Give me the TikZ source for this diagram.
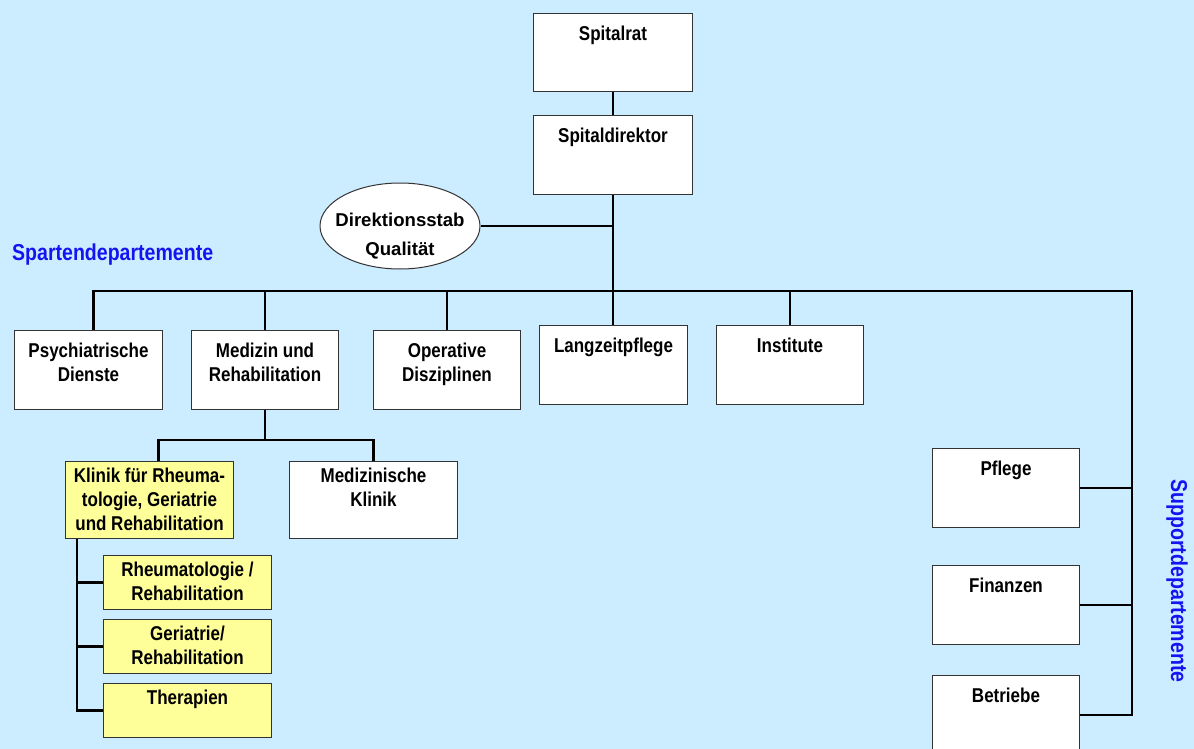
\documentclass[tikz,border=0pt]{standalone}
\usepackage{fontspec}
\setmainfont{Liberation Sans}
\newfontfamily\condfont{Liberation Sans}[FakeStretch=0.85]
\definecolor{bgblue}{RGB}{204,236,255}
\definecolor{klinikgelb}{RGB}{255,255,153}
\definecolor{labelblue}{RGB}{20,20,240}
\tikzset{
  orgbox/.style n args={3}{draw=black!80, line width=1pt, fill=white, anchor=north west, inner sep=0pt,
    minimum width=#1, minimum height=#2, font=\condfont\bfseries\fontsize{20}{24}\selectfont,
    execute at begin node={\begin{minipage}[c][#2][t]{#1}\centering\vspace*{#3}\strut},
    execute at end node={\end{minipage}}},
  gelb/.style={fill=klinikgelb},
  link/.style={line width=2.5pt},
  stab/.style={ellipse, draw=black!80, line width=1pt, fill=white, inner sep=0pt,
    minimum width=160pt, minimum height=86pt, font=\bfseries\fontsize{18.6}{29}\selectfont},
  sparte/.style={text=labelblue, inner sep=0pt, font=\condfont\bfseries\fontsize{23}{28}\selectfont},
}
\usetikzlibrary{shapes.geometric}
\begin{document}
\begin{tikzpicture}[x=1pt,y=-1pt]
\useasboundingbox (0,0) rectangle (1194,749);
\fill[bgblue] (0,0) rectangle (1194,749);

% Leitung
\node[orgbox={159pt}{78pt}{10pt}] (rat) at (533,13) {Spitalrat};
\node[orgbox={159pt}{79pt}{10pt}] (dir) at (533,115) {Spitaldirektor};
\node[stab] (stab) at (400,226) {\raisebox{-14pt}[0pt][0pt]{\makebox[0pt]{\parbox{150pt}{\centering Direktionsstab\\Qualit\"at}}}};

% Spartendepartemente
\node[sparte, anchor=west] (sparten) at (12,255) {Spartendepartemente};
\node[orgbox={148pt}{79pt}{10pt}] (psych) at (14,330) {Psychiatrische\\Dienste};
\node[orgbox={147pt}{79pt}{10pt}] (med) at (191,330) {Medizin und\\Rehabilitation};
\node[orgbox={147pt}{79pt}{10pt}] (oper) at (373,330) {Operative\\Disziplinen};
\node[orgbox={148pt}{79pt}{10pt}] (lang) at (539,325) {Langzeitpflege};
\node[orgbox={147pt}{79pt}{10pt}] (inst) at (716,325) {Institute};

\node[orgbox={168pt}{77pt}{4pt}, gelb] (klinik) at (65,461) {Klinik f\"ur Rheuma-\\tologie, Geriatrie\\und Rehabilitation};
\node[orgbox={168pt}{77pt}{4pt}] (medkl) at (289,461) {Medizinische\\Klinik};
\node[orgbox={168pt}{54pt}{4pt}, gelb] (rheu) at (103,555) {Rheumatologie /\\Rehabilitation};
\node[orgbox={168pt}{54pt}{4pt}, gelb] (geri) at (103,619) {Geriatrie/\\Rehabilitation};
\node[orgbox={168pt}{54pt}{4pt}, gelb] (ther) at (103,683) {Therapien};

% Supportdepartemente
\node[sparte, rotate=-90] (support) at (1177,581) {Supportdepartemente};
\node[orgbox={147pt}{79pt}{10pt}] (pflege) at (932,448) {Pflege};
\node[orgbox={147pt}{79pt}{10pt}] (fin) at (932,565) {Finanzen};
\node[orgbox={147pt}{79pt}{10pt}] (betr) at (932,675) {Betriebe};

% Verbindungen
\coordinate (busR) at (1132,291);
\coordinate (split) at (0,440);
\coordinate (kl) at ([xshift=12pt]klinik.south west);
\draw[link] (rat) -- (dir);
\draw[link] (dir.south) -- (dir.south |- lang.north);
\draw[link] (stab.east) -- (stab.east -| dir.south);
\draw[link] ([xshift=5pt]psych.north) |- (busR) |- (betr.east);
\foreach \n in {med,oper,inst}
\draw[link] (\n.north) -- (\n.north |- busR);
\foreach \n in {pflege,fin}
\draw[link] (\n.east) -- (\n.east -| busR);
\draw[link] (med.south) -- (med.south |- split);
\draw[link] ([xshift=9pt]klinik.north) |- (medkl.north |- split) -- (medkl.north);
\draw[link] (kl) |- (ther.west);
\foreach \n in {rheu,geri}
\draw[link] (\n.west) -- (\n.west -| kl);

\end{tikzpicture}
\end{document}
